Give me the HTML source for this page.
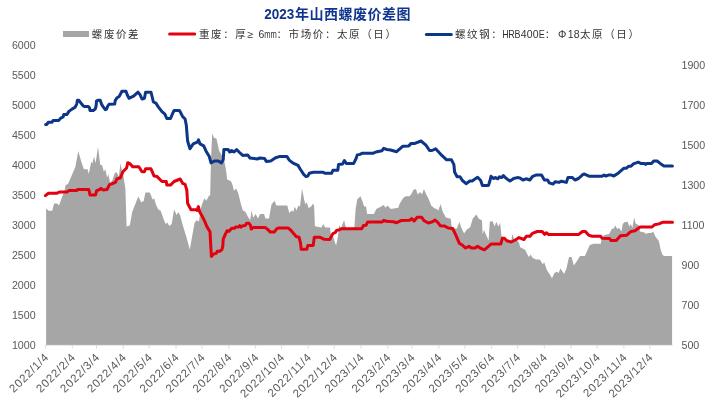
<!DOCTYPE html>
<html lang="zh"><head><meta charset="utf-8"><title>2023年山西螺废价差图</title>
<style>html,body{margin:0;padding:0;background:#fff;}body{width:717px;height:410px;overflow:hidden;font-family:"Liberation Sans",sans-serif;}</style>
</head><body>
<svg width="717" height="410" viewBox="0 0 717 410" style="display:block">
<rect width="717" height="410" fill="#fff"/>
<polygon fill="#a6a6a6" points="46.1,345.0 46.1,208.3 48.5,210.7 52.2,210.7 54.1,203.4 57.1,203.4 59.0,205.4 62.0,197.3 64.4,191.2 65.6,185.1 68.0,183.9 71.7,175.4 75.4,166.8 78.3,151.0 81.0,160.7 83.9,169.3 87.6,169.3 88.8,174.1 91.2,162.0 92.4,163.2 94.1,156.6 95.6,163.2 98.0,146.8 100.2,164.4 102.2,165.6 103.9,171.7 105.4,169.3 107.1,177.8 108.3,174.1 110.2,182.7 112.5,180.0 114.4,174.1 116.1,171.7 117.6,174.1 118.8,176.6 120.5,163.2 122.2,171.7 123.7,177.8 125.4,188.8 126.6,226.6 129.8,225.4 132.2,212.0 135.1,204.6 138.3,196.6 141.2,202.2 143.7,201.0 145.4,192.4 149.8,192.4 152.7,199.8 154.1,198.0 155.9,204.6 158.3,209.5 160.7,210.7 163.2,218.0 165.6,224.1 167.3,222.4 169.3,225.9 171.7,224.1 174.1,209.5 176.6,215.0 178.5,212.0 180.2,215.6 182.4,223.9 186.1,236.1 189.8,249.5 192.2,236.1 194.6,222.7 196.6,220.2 199.0,221.5 200.7,209.3 202.0,204.4 204.4,198.3 206.3,200.7 208.8,195.9 210.2,195.0 211.0,159.0 212.2,133.5 213.9,137.8 216.5,138.7 219.0,150.6 221.6,154.9 224.2,160.8 225.9,169.4 227.2,179.6 231.0,181.3 232.7,185.6 233.9,190.7 236.1,188.5 238.3,193.3 241.0,204.4 242.9,210.5 245.4,211.7 247.8,216.6 250.2,220.2 251.5,210.5 253.2,217.8 255.6,214.1 258.0,218.5 260.0,214.1 264.1,214.1 265.4,218.5 269.0,218.5 271.5,204.4 274.6,200.7 276.3,205.6 287.3,205.6 289.3,212.9 291.7,210.5 293.4,211.7 294.6,206.8 296.6,210.5 298.3,205.6 300.0,206.8 302.0,188.5 304.4,200.7 305.6,204.4 306.8,202.0 308.5,208.0 311.0,206.8 312.9,203.7 314.1,205.6 314.9,226.3 321.5,227.6 323.2,223.9 325.1,227.6 330.0,227.6 331.0,236.0 332.4,234.6 334.4,240.7 336.1,245.6 338.0,235.9 339.3,224.9 341.0,228.5 344.1,220.0 345.4,226.1 347.1,228.5 354.4,227.3 355.6,209.0 357.3,199.3 360.5,196.3 362.2,200.5 364.1,206.6 366.1,206.6 367.1,213.9 373.9,213.9 376.3,209.0 381.2,206.6 383.7,204.9 385.6,207.8 387.3,205.4 391.0,209.0 398.3,207.8 399.5,204.1 403.2,198.0 405.6,196.3 409.3,196.3 411.2,194.4 412.9,190.7 414.6,189.0 416.1,189.5 417.8,194.4 420.2,192.0 422.0,194.4 423.9,189.0 426.3,194.4 428.8,199.3 431.2,205.4 433.7,207.8 436.1,209.0 438.5,210.2 440.5,204.1 442.7,211.5 445.9,217.6 450.7,218.8 452.0,228.5 456.8,228.5 459.3,222.0 461.7,228.5 464.1,233.4 466.6,229.8 470.2,227.3 472.7,218.8 476.3,214.4 478.8,218.8 480.0,219.3 482.0,220.5 482.6,234.5 484.0,230.0 486.1,234.9 488.6,240.5 489.8,221.5 492.7,221.2 494.6,226.6 496.3,221.7 498.3,226.6 500.2,222.9 501.5,236.3 504.4,237.6 508.0,240.0 511.2,241.2 512.4,233.9 514.1,238.8 516.6,240.0 519.0,242.4 520.2,247.3 525.1,249.8 528.8,257.1 530.7,254.6 532.4,257.8 536.1,259.5 539.8,259.5 542.9,264.4 544.1,262.0 547.1,270.5 549.5,274.1 552.0,278.3 554.4,272.9 556.8,271.7 558.5,272.9 560.5,268.5 564.1,274.1 566.6,268.0 569.0,257.1 571.5,257.1 573.9,265.6 576.3,262.0 580.0,255.9 584.9,255.9 589.8,244.9 593.4,243.7 600.7,243.7 602.0,237.6 604.4,235.1 609.3,233.9 611.7,229.0 613.7,228.5 615.4,225.4 617.1,229.0 619.0,227.8 621.5,231.5 622.7,224.1 624.4,222.2 627.6,221.7 629.3,226.6 630.7,224.1 632.4,227.8 634.1,217.5 635.8,223.9 638.4,224.7 640.1,231.6 644.4,232.4 646.1,234.1 647.8,232.9 651.2,232.9 653.2,231.6 655.5,236.7 658.9,241.0 660.6,249.5 662.3,254.6 664.0,256.0 672.1,256.0 672.1,345.0"/>
<g stroke="#d9d9d9" stroke-width="1" fill="none">
<line x1="45" y1="345.3" x2="672.6" y2="345.3" stroke-width="0.8"/>
<line x1="45.5" y1="345" x2="45.5" y2="348.7" stroke-width="0.9"/>
<line x1="72.3" y1="345" x2="72.3" y2="348.7" stroke-width="0.9"/>
<line x1="96.5" y1="345" x2="96.5" y2="348.7" stroke-width="0.9"/>
<line x1="123.3" y1="345" x2="123.3" y2="348.7" stroke-width="0.9"/>
<line x1="149.2" y1="345" x2="149.2" y2="348.7" stroke-width="0.9"/>
<line x1="176.0" y1="345" x2="176.0" y2="348.7" stroke-width="0.9"/>
<line x1="202.0" y1="345" x2="202.0" y2="348.7" stroke-width="0.9"/>
<line x1="228.8" y1="345" x2="228.8" y2="348.7" stroke-width="0.9"/>
<line x1="255.6" y1="345" x2="255.6" y2="348.7" stroke-width="0.9"/>
<line x1="281.5" y1="345" x2="281.5" y2="348.7" stroke-width="0.9"/>
<line x1="308.3" y1="345" x2="308.3" y2="348.7" stroke-width="0.9"/>
<line x1="334.2" y1="345" x2="334.2" y2="348.7" stroke-width="0.9"/>
<line x1="361.0" y1="345" x2="361.0" y2="348.7" stroke-width="0.9"/>
<line x1="387.8" y1="345" x2="387.8" y2="348.7" stroke-width="0.9"/>
<line x1="412.0" y1="345" x2="412.0" y2="348.7" stroke-width="0.9"/>
<line x1="438.8" y1="345" x2="438.8" y2="348.7" stroke-width="0.9"/>
<line x1="464.8" y1="345" x2="464.8" y2="348.7" stroke-width="0.9"/>
<line x1="491.6" y1="345" x2="491.6" y2="348.7" stroke-width="0.9"/>
<line x1="517.5" y1="345" x2="517.5" y2="348.7" stroke-width="0.9"/>
<line x1="544.3" y1="345" x2="544.3" y2="348.7" stroke-width="0.9"/>
<line x1="571.1" y1="345" x2="571.1" y2="348.7" stroke-width="0.9"/>
<line x1="597.1" y1="345" x2="597.1" y2="348.7" stroke-width="0.9"/>
<line x1="623.9" y1="345" x2="623.9" y2="348.7" stroke-width="0.9"/>
<line x1="649.8" y1="345" x2="649.8" y2="348.7" stroke-width="0.9"/>
</g>
<polyline fill="none" stroke="#e3000f" stroke-width="3" stroke-linejoin="round" stroke-linecap="round" points="45.4,195.6 48.5,193.2 57.1,193.2 59.5,192.0 66.8,192.0 69.3,190.5 76.6,190.5 77.8,189.5 88.8,189.5 90.0,194.9 95.6,194.9 96.6,190.7 99.8,189.5 101.0,188.3 102.9,190.0 107.1,189.5 109.5,184.6 112.0,183.9 115.6,182.2 116.8,179.0 120.5,177.8 122.9,171.7 126.6,168.0 127.8,162.7 130.2,163.9 132.7,166.8 138.8,166.8 142.0,171.7 144.4,171.7 145.6,168.8 151.0,168.8 154.1,176.1 157.1,176.6 162.0,181.5 166.3,181.5 166.8,185.1 170.5,185.1 174.1,181.5 180.2,179.0 182.7,183.4 185.1,184.4 186.8,190.0 187.6,203.2 191.0,209.8 195.9,209.8 197.0,210.4 198.4,206.6 199.8,212.1 202.2,216.3 204.4,220.6 206.9,226.6 210.0,231.7 210.7,244.5 211.4,256.5 213.8,253.9 216.3,253.4 217.2,251.3 219.8,251.3 222.0,249.3 222.8,246.2 223.2,239.4 224.9,235.1 227.1,230.8 229.1,231.2 231.7,228.3 234.3,228.3 235.6,227.1 238.5,227.1 239.7,225.7 241.1,227.1 242.8,225.7 245.4,225.4 246.6,223.2 248.8,223.2 250.5,225.4 251.3,229.1 253.4,227.4 265.0,227.4 268.4,230.0 270.1,232.0 274.4,232.0 276.6,228.8 278.6,227.9 288.0,227.9 290.6,230.0 294.0,233.9 296.1,236.5 299.1,237.3 300.5,242.8 301.2,249.3 306.8,249.3 307.9,245.4 313.2,245.4 314.3,237.3 320.2,237.3 323.9,239.2 329.8,239.4 331.8,235.5 333.2,233.3 335.2,232.6 336.6,230.4 339.5,229.8 341.2,228.7 361.7,228.7 363.4,225.6 366.0,225.2 367.7,222.0 382.2,222.0 383.9,220.3 386.1,221.3 393.3,221.7 396.7,222.7 401.0,220.6 409.5,220.3 411.7,218.6 414.1,221.0 417.2,217.2 421.5,217.2 424.0,220.6 428.3,223.0 432.5,221.8 435.1,220.1 437.7,222.3 440.2,225.7 444.6,226.1 448.3,228.0 452.7,228.5 455.6,234.6 459.3,243.2 462.9,245.6 465.4,248.0 469.0,246.3 471.5,248.0 475.1,248.0 477.6,246.3 480.0,248.0 484.4,249.8 487.3,247.3 491.0,244.1 500.7,244.1 502.4,238.3 504.4,238.3 506.8,240.7 511.2,242.0 515.4,240.0 519.0,237.6 523.9,239.5 526.3,236.3 530.0,236.3 532.4,233.4 537.3,231.5 542.2,231.5 544.6,234.4 546.3,232.7 548.3,234.4 578.8,234.4 582.4,231.5 585.4,231.5 588.5,235.1 592.2,236.3 600.7,236.3 602.0,238.3 609.4,238.4 611.1,240.6 616.2,240.6 620.5,235.8 626.5,235.3 630.7,231.6 635.0,230.7 640.1,227.0 652.0,227.0 654.6,224.7 658.9,223.9 663.1,222.2 672.5,222.2"/>
<polyline fill="none" stroke="#0d3588" stroke-width="3" stroke-linejoin="round" stroke-linecap="round" points="45.6,124.4 46.9,124.4 48.2,122.3 51.9,122.3 53.2,120.4 58.8,120.4 60.7,118.1 63.2,116.9 63.8,114.4 67.0,114.4 68.9,111.4 72.0,109.1 75.1,107.2 76.7,104.1 77.4,100.3 78.9,100.3 80.8,102.8 83.3,106.0 84.6,106.6 88.3,106.6 89.6,108.1 90.0,110.4 93.3,110.4 95.2,109.1 96.1,106.0 96.5,100.9 98.4,100.3 100.2,100.3 101.5,104.1 103.4,107.2 105.3,109.7 106.5,109.1 107.8,106.0 109.0,104.3 114.7,104.1 115.3,100.3 116.8,98.1 119.1,96.6 121.0,93.0 121.8,91.3 126.0,91.3 127.2,94.7 128.5,97.2 129.0,98.3 133.9,95.9 138.0,92.2 140.0,94.6 142.0,99.0 144.4,98.3 145.6,92.2 151.0,92.2 153.4,102.0 155.9,103.2 158.3,106.8 162.0,111.7 164.9,114.1 166.8,118.5 170.5,118.5 172.9,112.9 174.1,110.5 179.5,110.5 182.7,116.6 185.1,119.0 186.3,125.1 187.6,141.0 190.0,148.8 193.2,143.9 197.3,142.2 198.5,139.8 200.0,143.9 203.7,145.9 206.1,151.2 209.3,156.6 211.0,162.9 214.6,161.0 218.3,161.0 221.5,162.9 223.2,159.8 223.9,149.5 228.0,149.5 229.8,152.0 231.7,150.5 234.1,152.0 236.6,149.5 239.0,152.0 242.7,155.4 247.6,154.9 250.0,158.0 257.3,159.0 259.8,158.0 264.6,158.5 266.3,161.5 270.7,161.0 275.6,157.8 279.3,156.6 287.0,156.6 289.0,159.8 292.7,162.9 298.0,165.4 300.5,169.5 303.7,174.4 306.1,176.6 307.8,176.1 309.3,173.2 313.4,172.2 323.2,172.2 324.9,173.2 331.7,173.2 332.9,170.2 337.8,170.2 338.5,164.6 342.7,163.9 344.4,160.5 346.3,163.4 353.7,163.4 356.1,158.5 357.3,154.9 360.0,154.4 362.4,153.2 373.4,153.2 375.9,152.0 382.0,150.7 383.7,148.3 386.8,149.5 390.5,150.0 396.6,151.7 402.7,146.3 408.8,145.9 411.2,143.4 414.9,143.4 421.0,141.0 425.9,145.1 429.5,150.5 432.0,150.5 435.6,148.8 440.5,154.1 446.6,159.8 451.5,159.8 453.9,164.6 454.6,172.0 457.1,176.8 460.0,176.8 462.4,180.5 466.1,183.7 469.8,181.0 472.2,181.0 474.6,179.3 477.6,177.3 480.7,180.5 482.4,185.4 488.5,185.4 490.0,180.5 491.0,176.3 493.7,178.5 495.4,177.6 497.8,178.8 499.5,176.8 501.5,177.6 503.4,175.6 506.3,178.5 510.0,181.0 513.7,178.5 517.3,177.6 520.0,178.0 522.9,180.0 526.1,178.8 529.8,180.0 532.7,176.3 535.9,175.1 541.5,175.1 544.4,180.0 547.6,180.0 549.3,182.9 552.9,184.1 555.4,181.7 559.0,182.4 561.5,181.2 566.3,182.4 568.0,177.6 572.4,177.6 574.9,180.0 578.5,178.5 582.2,175.1 583.9,173.9 589.5,176.3 601.7,176.3 604.1,175.1 605.9,176.1 608.3,175.1 611.5,175.1 613.9,176.1 618.8,172.7 623.7,168.3 626.1,168.3 628.5,166.3 631.0,166.3 633.4,163.9 638.3,162.2 640.7,163.4 644.4,163.4 645.6,164.4 646.8,163.4 651.7,163.4 653.7,161.0 657.1,161.0 660.2,163.4 663.9,165.9 672.4,165.9"/>
<g font-family="'Liberation Sans', sans-serif" font-size="10.67" fill="#595959" style="will-change:opacity">
<text x="35.6" y="48.9" text-anchor="end">6000</text>
<text x="35.6" y="78.9" text-anchor="end">5500</text>
<text x="35.6" y="108.9" text-anchor="end">5000</text>
<text x="35.6" y="138.9" text-anchor="end">4500</text>
<text x="35.6" y="168.9" text-anchor="end">4000</text>
<text x="35.6" y="198.9" text-anchor="end">3500</text>
<text x="35.6" y="228.9" text-anchor="end">3000</text>
<text x="35.6" y="258.9" text-anchor="end">2500</text>
<text x="35.6" y="288.9" text-anchor="end">2000</text>
<text x="35.6" y="318.9" text-anchor="end">1500</text>
<text x="35.6" y="348.9" text-anchor="end">1000</text>
<text x="681.5" y="68.9">1900</text>
<text x="681.5" y="108.9">1700</text>
<text x="681.5" y="148.9">1500</text>
<text x="681.5" y="188.9">1300</text>
<text x="681.5" y="228.9">1100</text>
<text x="681.5" y="268.9">900</text>
<text x="681.5" y="308.9">700</text>
<text x="681.5" y="348.9">500</text>
<text transform="translate(49.6,357.6) rotate(-45)" text-anchor="end" font-size="11.5" letter-spacing="0.72">2022/1/4</text>
<text transform="translate(76.4,357.6) rotate(-45)" text-anchor="end" font-size="11.5" letter-spacing="0.72">2022/2/4</text>
<text transform="translate(100.6,357.6) rotate(-45)" text-anchor="end" font-size="11.5" letter-spacing="0.72">2022/3/4</text>
<text transform="translate(127.4,357.6) rotate(-45)" text-anchor="end" font-size="11.5" letter-spacing="0.72">2022/4/4</text>
<text transform="translate(153.3,357.6) rotate(-45)" text-anchor="end" font-size="11.5" letter-spacing="0.72">2022/5/4</text>
<text transform="translate(180.1,357.6) rotate(-45)" text-anchor="end" font-size="11.5" letter-spacing="0.72">2022/6/4</text>
<text transform="translate(206.1,357.6) rotate(-45)" text-anchor="end" font-size="11.5" letter-spacing="0.72">2022/7/4</text>
<text transform="translate(232.9,357.6) rotate(-45)" text-anchor="end" font-size="11.5" letter-spacing="0.72">2022/8/4</text>
<text transform="translate(259.7,357.6) rotate(-45)" text-anchor="end" font-size="11.5" letter-spacing="0.72">2022/9/4</text>
<text transform="translate(285.6,357.6) rotate(-45)" text-anchor="end" font-size="11.5" letter-spacing="0.72">2022/10/4</text>
<text transform="translate(312.4,357.6) rotate(-45)" text-anchor="end" font-size="11.5" letter-spacing="0.72">2022/11/4</text>
<text transform="translate(338.3,357.6) rotate(-45)" text-anchor="end" font-size="11.5" letter-spacing="0.72">2022/12/4</text>
<text transform="translate(365.1,357.6) rotate(-45)" text-anchor="end" font-size="11.5" letter-spacing="0.72">2023/1/4</text>
<text transform="translate(391.9,357.6) rotate(-45)" text-anchor="end" font-size="11.5" letter-spacing="0.72">2023/2/4</text>
<text transform="translate(416.1,357.6) rotate(-45)" text-anchor="end" font-size="11.5" letter-spacing="0.72">2023/3/4</text>
<text transform="translate(442.9,357.6) rotate(-45)" text-anchor="end" font-size="11.5" letter-spacing="0.72">2023/4/4</text>
<text transform="translate(468.9,357.6) rotate(-45)" text-anchor="end" font-size="11.5" letter-spacing="0.72">2023/5/4</text>
<text transform="translate(495.7,357.6) rotate(-45)" text-anchor="end" font-size="11.5" letter-spacing="0.72">2023/6/4</text>
<text transform="translate(521.6,357.6) rotate(-45)" text-anchor="end" font-size="11.5" letter-spacing="0.72">2023/7/4</text>
<text transform="translate(548.4,357.6) rotate(-45)" text-anchor="end" font-size="11.5" letter-spacing="0.72">2023/8/4</text>
<text transform="translate(575.2,357.6) rotate(-45)" text-anchor="end" font-size="11.5" letter-spacing="0.72">2023/9/4</text>
<text transform="translate(601.2,357.6) rotate(-45)" text-anchor="end" font-size="11.5" letter-spacing="0.72">2023/10/4</text>
<text transform="translate(628.0,357.6) rotate(-45)" text-anchor="end" font-size="11.5" letter-spacing="0.72">2023/11/4</text>
<text transform="translate(653.9,357.6) rotate(-45)" text-anchor="end" font-size="11.5" letter-spacing="0.72">2023/12/4</text>
</g>
<rect x="63" y="31" width="26" height="6" fill="#a6a6a6"/>
<line x1="169.6" y1="34" x2="194.7" y2="34" stroke="#e3000f" stroke-width="3" stroke-linecap="round"/>
<line x1="426.4" y1="34.5" x2="451.3" y2="34.5" stroke="#0d3588" stroke-width="3" stroke-linecap="round"/>
<text x="91.8" y="38" font-family="'Liberation Sans', 'Noto Sans CJK SC', sans-serif" font-size="10.5" letter-spacing="1.6" fill="#333333">螺废价差</text>
<text x="199" y="38" font-family="'Liberation Sans', 'Noto Sans CJK SC', sans-serif" font-size="10.5" letter-spacing="1.6" fill="#333333">重废：厚≥</text>
<g font-family="'Liberation Sans', sans-serif" fill="#333333" style="will-change:opacity"><text x="261.42" y="37.50" text-anchor="middle" font-size="10.5">6</text><text transform="translate(267.47,37.50) scale(0.72,1)" text-anchor="middle" font-size="10.5">m</text><text transform="translate(273.52,37.50) scale(0.72,1)" text-anchor="middle" font-size="10.5">m</text></g>
<text x="276.5" y="38" font-family="'Liberation Sans', 'Noto Sans CJK SC', sans-serif" font-size="10.5" letter-spacing="1.6" fill="#333333">：市场价：太原（日）</text>
<text x="455" y="38" font-family="'Liberation Sans', 'Noto Sans CJK SC', sans-serif" font-size="10.5" letter-spacing="1.6" fill="#333333">螺纹钢：</text>
<g font-family="'Liberation Sans', sans-serif" fill="#333333" style="will-change:opacity"><text transform="translate(505.42,37.50) scale(0.86,1)" text-anchor="middle" font-size="10.5">H</text><text transform="translate(511.47,37.50) scale(0.86,1)" text-anchor="middle" font-size="10.5">R</text><text transform="translate(517.52,37.50) scale(0.86,1)" text-anchor="middle" font-size="10.5">B</text><text x="523.57" y="37.50" text-anchor="middle" font-size="10.5">4</text><text x="529.62" y="37.50" text-anchor="middle" font-size="10.5">0</text><text x="535.67" y="37.50" text-anchor="middle" font-size="10.5">0</text><text transform="translate(541.72,37.50) scale(0.86,1)" text-anchor="middle" font-size="10.5">E</text><text x="570.57" y="37.50" text-anchor="middle" font-size="10.5">1</text><text x="576.62" y="37.50" text-anchor="middle" font-size="10.5">8</text></g>
<text x="544.7" y="38" font-family="'Liberation Sans', 'Noto Sans CJK SC', sans-serif" font-size="10.5" fill="#333333">：</text>
<text x="562.2" y="37.5" text-anchor="middle" font-family="'Liberation Sans', 'Noto Sans CJK SC', sans-serif" font-size="10.5" fill="#333333">Φ</text>
<text x="580" y="38" font-family="'Liberation Sans', 'Noto Sans CJK SC', sans-serif" font-size="10.5" letter-spacing="1.6" fill="#333333">太原（日）</text>
<g style="will-change:opacity"><text transform="translate(264.2,18.6) scale(0.964,1)" font-family="'Liberation Sans', sans-serif" font-weight="bold" font-size="14" fill="#10358e">2023</text></g>
<text x="295" y="19" font-family="'Liberation Sans', 'Noto Sans CJK SC', sans-serif" font-weight="bold" font-size="14" letter-spacing="0.5" fill="#10358e">年山西螺废价差图</text>
</svg>
</body></html>
